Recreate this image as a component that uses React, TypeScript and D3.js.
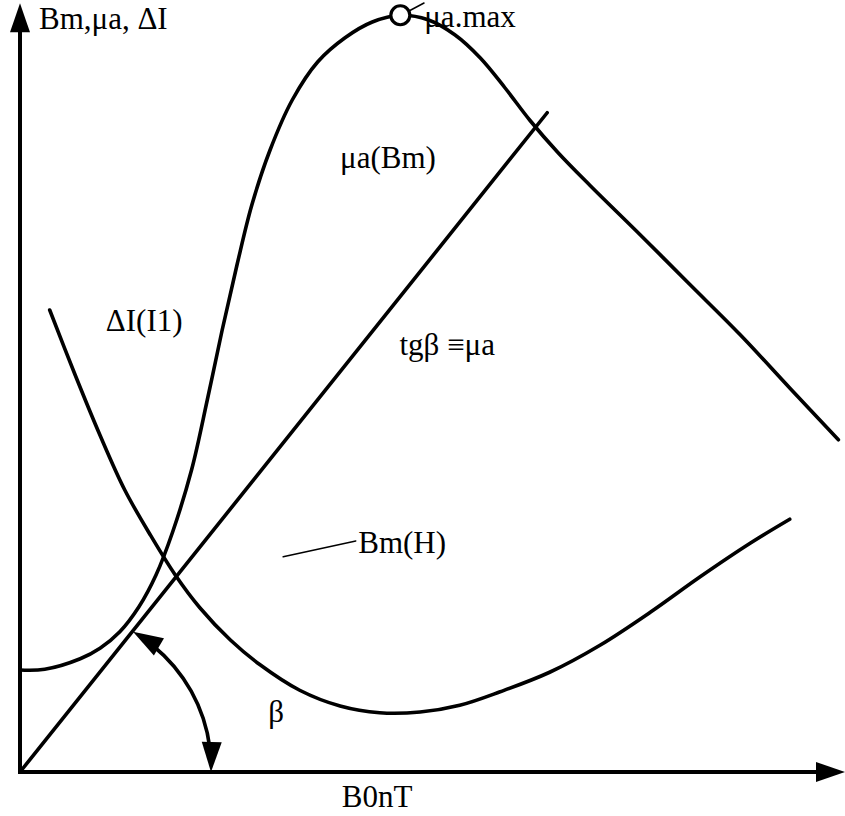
import React from "react";
import * as d3 from "d3";

const W = 845;
const H = 816;

// mu_a(Bm) curve (abstract units 0..10)
const muaX = [0, 0.3, 0.73, 0.97, 1.21, 1.44, 1.65, 1.85, 2.08, 2.27, 2.45, 2.63, 2.81, 3.03, 3.3, 3.61, 3.94, 4.27, 4.61, 4.945, 5.27, 5.58, 5.88, 6.18, 6.52, 6.91, 7.52, 8.12, 8.73, 9.33, 9.92];
const muaY = [1.36, 1.37, 1.51, 1.65, 1.87, 2.2, 2.63, 3.2, 4.03, 4.96, 5.89, 6.76, 7.56, 8.29, 8.96, 9.47, 9.79, 10.0, 10.09, 10.03, 9.83, 9.52, 9.12, 8.69, 8.26, 7.82, 7.16, 6.5, 5.83, 5.12, 4.43];

// delta I(I1) curve
const dIX = [0.36, 0.67, 0.97, 1.27, 1.58, 1.88, 2.18, 2.55, 2.91, 3.39, 3.88, 4.36, 4.85, 5.33, 5.82, 6.42, 7.03, 7.64, 8.24, 8.85, 9.33];
const dIY = [6.16, 5.29, 4.49, 3.76, 3.16, 2.63, 2.19, 1.76, 1.43, 1.09, 0.88, 0.79, 0.8, 0.89, 1.07, 1.33, 1.69, 2.13, 2.6, 3.05, 3.37];

// tg(beta) straight line
const tgX = [0, 6.39];
const tgY = [0, 8.79];

// beta angle arc: centre, start (on the line), end (on the x axis)
const betaArc = [
  [0.406, 0.053],
  [1.37, 1.87],
  [2.315, 0],
];

const labels = [
  { text: "Bm,\u03bca, \u0394I", x: 0.23, y: 9.91 },
  { text: "\u03bca.max", x: 4.9, y: 9.933 },
  { text: "\u03bca(Bm)", x: 3.88, y: 8.05 },
  { text: "\u0394I(I1)", x: 1.04, y: 5.88 },
  { text: "tg\u03b2 \u2261\u03bca", x: 4.6, y: 5.56 },
  { text: "Bm(H)", x: 4.1, y: 2.92 },
  { text: "\u03b2", x: 3.01, y: 0.67 },
  { text: "B0nT", x: 3.9, y: -0.46 },
];

// thin leader lines
const leaders = [
  [[4.715, 10.147], [4.897, 10.253]],
  [[3.19, 2.87], [4.07, 3.08]],
];

const Y_TOP = 10.25; // y axis arrow tip
const X_END = 10;

const x = d3.scaleLinear().domain([0, 10]).range([20, 845]);
const y = d3.scaleLinear().domain([0, 10]).range([772, 22]);

const head = (tx: number, ty: number, dx: number, dy: number, len = 29, half = 10) => {
  const bx = tx + dx * len;
  const by = ty + dy * len;
  return `${tx},${ty} ${bx - dy * half},${by + dx * half} ${bx + dy * half},${by - dx * half}`;
};

export default function App() {
  const path = (xs: number[], ys: number[]) =>
    d3
      .line<number>()
      .x((d) => x(d))
      .y((_, i) => y(ys[i]))
      .curve(d3.curveCatmullRom.alpha(0.5))(xs) as string;

  // peak of mu_a
  const pk = d3.maxIndex(muaY);

  // beta arc in pixel space
  const [c, a, b] = betaArc;
  const cx = x(c[0]);
  const cy = y(c[1]);
  const ax = x(a[0]);
  const ay = y(a[1]);
  const bx = x(b[0]);
  const by = y(b[1]);
  const r = (Math.hypot(ax - cx, ay - cy) + Math.hypot(bx - cx, by - cy)) / 2;
  const a0 = Math.atan2(ay - cy, ax - cx);
  const a1 = Math.atan2(by - cy, bx - cx);
  const trim = 24 / r;
  const arcPath = d3.path();
  arcPath.arc(cx, cy, r, a0 + trim, a1 - trim, false);
  const ta = [-Math.sin(a0), Math.cos(a0)];
  const tb = [Math.sin(a1), -Math.cos(a1)];

  const x0 = x(0);
  const y0 = y(0);
  const xEnd = x(X_END);
  const yEnd = y(Y_TOP);

  return (
    <svg
      width={W}
      height={H}
      style={{ position: "absolute", left: 0, top: 0, background: "#fff" }}
    >
      <g fill="none" stroke="#000" strokeLinecap="round">
        {/* axes */}
        <line x1={x0} y1={y0} x2={xEnd - 12} y2={y0} strokeWidth={4} strokeLinecap="square" />
        <line x1={x0} y1={y0} x2={x0} y2={yEnd + 12} strokeWidth={4} strokeLinecap="square" />

        <path d={path(muaX, muaY)} strokeWidth={3.6} />
        <path d={path(dIX, dIY)} strokeWidth={3.6} />
        <path d={path(tgX, tgY)} strokeWidth={3.6} />
        <path d={arcPath.toString()} strokeWidth={3.6} />

        {leaders.map((l, i) => (
          <line
            key={i}
            x1={x(l[0][0])}
            y1={y(l[0][1])}
            x2={x(l[1][0])}
            y2={y(l[1][1])}
            strokeWidth={1.5}
          />
        ))}
      </g>

      <g fill="#000">
        <polygon points={head(xEnd, y0, -1, 0)} />
        <polygon points={head(x0, yEnd, 0, 1)} />
        <polygon points={head(ax, ay, ta[0], ta[1], 30, 10)} />
        <polygon points={head(bx, by, tb[0], tb[1], 30, 10)} />
      </g>

      <circle
        cx={x(muaX[pk])}
        cy={y(muaY[pk])}
        r={9.5}
        fill="#fff"
        stroke="#000"
        strokeWidth={3.2}
      />

      <g fontFamily="'Liberation Serif', 'Times New Roman', serif" fontSize={31} fill="#000">
        {labels.map((l) => (
          <text key={l.text} x={x(l.x)} y={y(l.y)}>
            {l.text}
          </text>
        ))}
      </g>
    </svg>
  );
}
